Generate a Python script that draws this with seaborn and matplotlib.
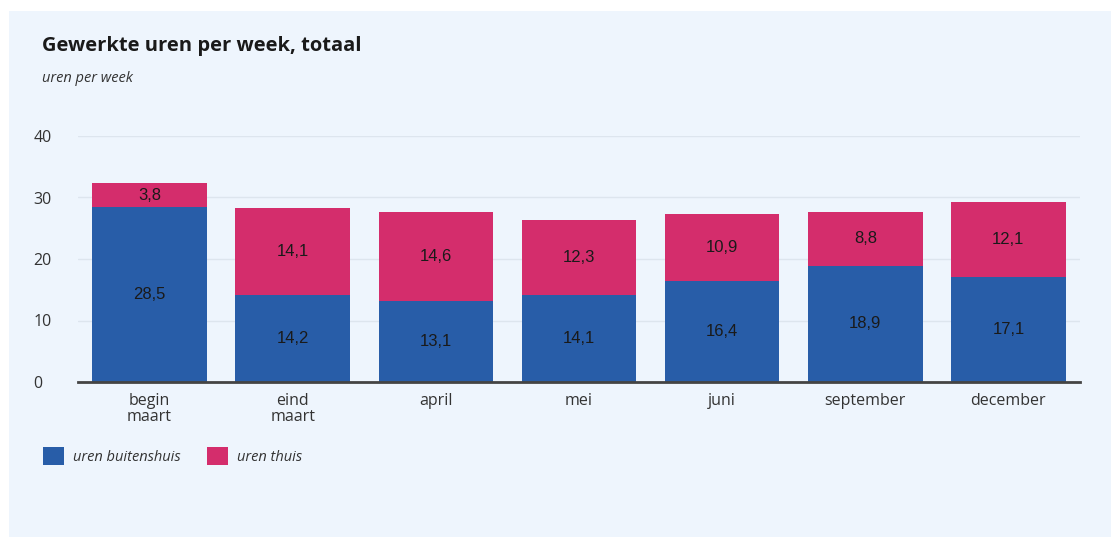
import matplotlib
matplotlib.use("Agg")
import matplotlib.pyplot as plt
import matplotlib.patches as mpatches
import pandas as pd
import seaborn as sns

# -----------------------------
# Data
# -----------------------------
periodes = ["begin\nmaart", "eind\nmaart", "april", "mei", "juni", "september", "december"]
uren_buitenshuis = [28.5, 14.2, 13.1, 14.1, 16.4, 18.9, 17.1]
uren_thuis = [3.8, 14.1, 14.6, 12.3, 10.9, 8.8, 12.1]

df = pd.DataFrame({"periode": periodes,
                   "buitenshuis": uren_buitenshuis,
                   "thuis": uren_thuis})
df["totaal"] = df["buitenshuis"] + df["thuis"]

blauw = "#285DA8"
roze = "#D42D6C"
achtergrond = "#EEF5FD"

sns.set_theme(style="white")
plt.rcParams["font.family"] = ["Open Sans", "DejaVu Sans"]

fig = plt.figure(figsize=(11.11, 5.37), dpi=100, facecolor="white")
# light blue panel (white strip on the left and top)
fig.patches.append(mpatches.Rectangle((9 / 1111, 0), 1, 1 - 11 / 537,
                                      transform=fig.transFigure,
                                      facecolor=achtergrond, edgecolor="none", zorder=-10))

ax = fig.add_axes([78 / 1111, 1 - 382 / 537, (1080 - 78) / 1111, (382 - 136) / 537])
ax.set_facecolor(achtergrond)

# stacked bars: total (pink) first, then the outside part (blue) on top of it
sns.barplot(data=df, x="periode", y="totaal", color=roze, saturation=1,
            width=0.8, linewidth=0, ax=ax, zorder=2)
sns.barplot(data=df, x="periode", y="buitenshuis", color=blauw, saturation=1,
            width=0.8, linewidth=0, ax=ax, zorder=3)

# value labels
for i, row in df.iterrows():
    ax.text(i, row["buitenshuis"] / 2, f"{row['buitenshuis']:.1f}".replace(".", ","),
            ha="center", va="center", fontsize=12, color="#1a1a1a",
            family="Liberation Sans", zorder=4)
    ax.text(i, row["buitenshuis"] + row["thuis"] / 2, f"{row['thuis']:.1f}".replace(".", ","),
            ha="center", va="center", fontsize=12, color="#1a1a1a",
            family="Liberation Sans", zorder=4)

ax.set_ylim(0, 40)
ax.set_xlim(-0.5, len(periodes) - 0.5)
ax.set_yticks([0, 10, 20, 30, 40])
ax.yaxis.grid(True, color="#dde5ee", linewidth=1)
ax.set_axisbelow(True)
for s in ["top", "right", "left"]:
    ax.spines[s].set_visible(False)
ax.spines["bottom"].set_color("#444444")
ax.spines["bottom"].set_linewidth(2)
ax.spines["bottom"].set_zorder(5)
ax.set_xlabel("")
ax.set_ylabel("")
ax.tick_params(axis="x", length=5, color="#cccccc", labelsize=11.5, labelcolor="#333333", pad=3)
ax.tick_params(axis="y", length=0, labelsize=11.5, labelcolor="#333333", pad=32)
for lbl in ax.get_yticklabels():
    lbl.set_horizontalalignment("left")
for lbl in ax.get_xticklabels():
    lbl.set_linespacing(1.0)

# titles
fig.text(42 / 1111, 1 - 46 / 537, "Gewerkte uren per week, totaal",
         fontsize=14.5, fontweight="bold", color="#1a1a1a", va="center")
fig.text(42 / 1111, 1 - 79 / 537, "uren per week",
         fontsize=10.5, style="italic", color="#333333", va="center")

# legend
handles = [mpatches.Patch(facecolor=blauw, edgecolor="none", label="uren buitenshuis"),
           mpatches.Patch(facecolor=roze, edgecolor="none", label="uren thuis")]
leg = fig.legend(handles=handles, loc="center left", bbox_to_anchor=(30 / 1111, 1 - 456 / 537),
                 ncol=2, frameon=False, handlelength=1.45, handleheight=1.6,
                 handletextpad=0.6, columnspacing=1.8,
                 prop={"size": 10.5, "style": "italic"})
for t in leg.get_texts():
    t.set_color("#333333")

plt.savefig("out.png", dpi=100, facecolor="white")
